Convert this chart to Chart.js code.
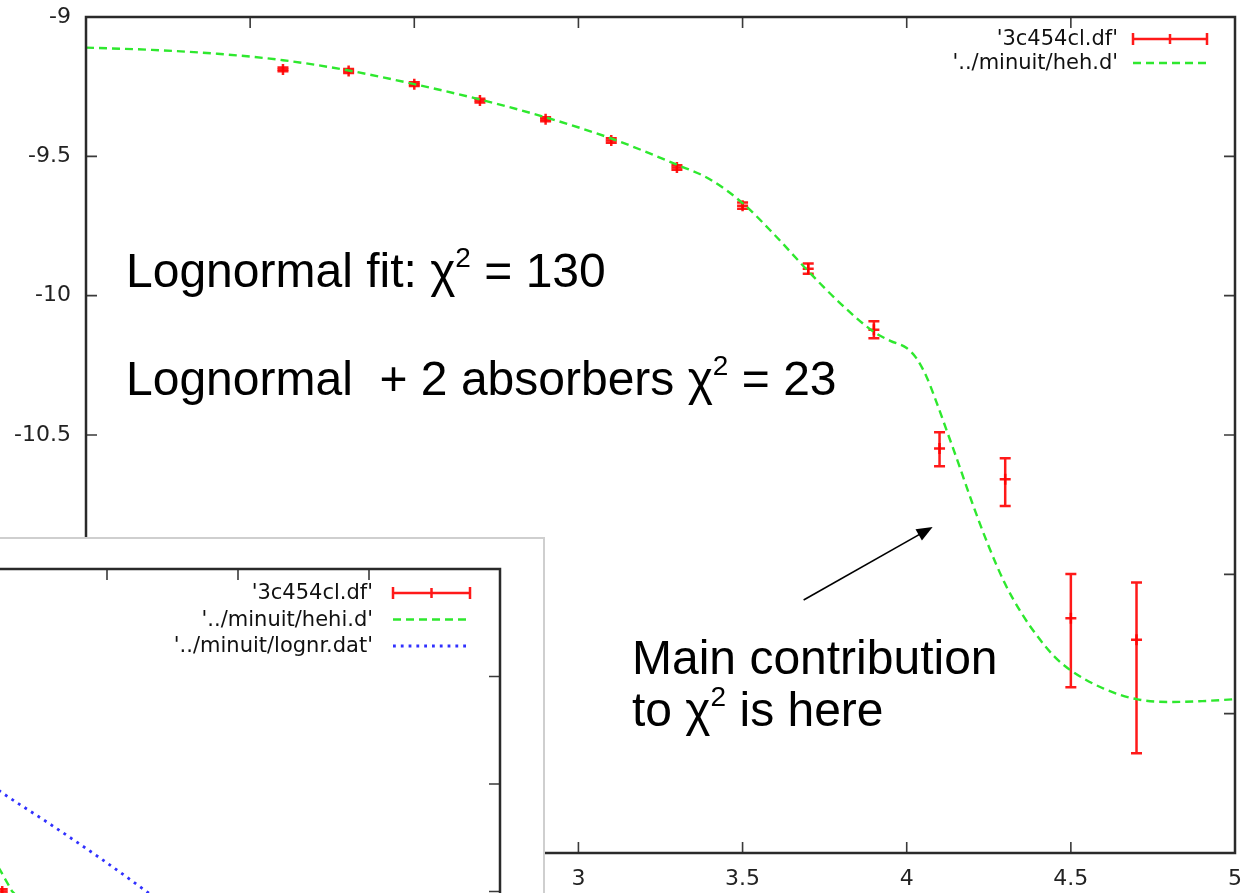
<!DOCTYPE html>
<html>
<head>
<meta charset="utf-8">
<script src="https://cdn.jsdelivr.net/npm/chart.js@4.4.1/dist/chart.umd.min.js"></script>
<style>
  body { margin: 0; background: #fff; }
  #wrap { position: relative; width: 1250px; height: 893px; overflow: hidden; }
  #main { position: absolute; left: 0; top: 0; }
  #inset { position: absolute; left: 0; top: 537px; width: 545px; height: 356px; box-sizing: border-box;
           background: #fff; border-top: 2px solid #cfcfcf; border-right: 2px solid #cfcfcf; overflow: hidden; }
  #insetChart { position: absolute; left: -460px; top: 0; }
  .note { position: absolute; font-family: "Liberation Sans", Arial, sans-serif; font-size: 48px; line-height: 52px;
          color: #000; white-space: pre; }
  .note sup { font-size: 28px; vertical-align: 0; position: relative; top: -20px; }
</style>
</head>
<body>
<div id="wrap">
  <canvas id="main" width="1250" height="893"></canvas>
  <div class="note" style="left:126px; top:245px;">Lognormal fit: χ<sup>2</sup> = 130</div>
  <div class="note" style="left:126px; top:353px;">Lognormal  + 2 absorbers χ<sup>2</sup> = 23</div>
  <div class="note" style="left:632px; top:632px;">Main contribution
to χ<sup>2</sup> is here</div>
  <div id="inset"><canvas id="insetChart" width="1005" height="480"></canvas></div>
</div>
<script>
// donnees du graphe principal (log frequence, log flux)
let dataX = [2.1, 2.3, 2.5, 2.7, 2.9, 3.1, 3.3, 3.5, 3.7, 3.9, 4.1, 4.3, 4.5, 4.7];
let dataY = [-9.188, -9.194, -9.241, -9.300, -9.367, -9.443, -9.540, -9.677, -9.903, -10.122, -10.548, -10.659, -11.158, -11.235];
let errLow = [-9.195, -9.201, -9.248, -9.307, -9.374, -9.451, -9.548, -9.688, -9.921, -10.153, -10.612, -10.755, -11.405, -11.642];
let errHigh = [-9.181, -9.187, -9.234, -9.293, -9.360, -9.435, -9.532, -9.666, -9.885, -10.092, -10.490, -10.583, -10.999, -11.029];

// courbe de fit heh.d
let fitX = [1.5, 1.7, 1.9, 2.1, 2.3, 2.5, 2.7, 2.9, 3.1, 3.3, 3.4, 3.5, 3.6, 3.7, 3.8, 3.9, 3.95, 4.0, 4.03, 4.06, 4.09, 4.12, 4.16, 4.2, 4.25, 4.3, 4.35, 4.4, 4.45, 4.5, 4.6, 4.7, 4.8, 4.9, 5.0];
let fitY = [-9.110, -9.118, -9.132, -9.155, -9.192, -9.241, -9.296, -9.360, -9.436, -9.530, -9.582, -9.668, -9.785, -9.912, -10.030, -10.130, -10.162, -10.188, -10.225, -10.29, -10.38, -10.478, -10.61, -10.745, -10.90, -11.035, -11.14, -11.225, -11.295, -11.345, -11.41, -11.448, -11.458, -11.455, -11.448];

let xTicks = [1.5, 2, 2.5, 3, 3.5, 4, 4.5, 5];
let yTicks = [-9, -9.5, -10, -10.5, -11, -11.5, -12];

// fleche "Main contribution"
let arrowFrom = [3.686, -11.092];
let arrowTo = [4.079, -10.830];

// petit graphe en bas a gauche (seule une partie est visible)
let insetPtX = [3.1];
let insetPtY = [-10.50];
let insetPtLow = [-10.51];
let insetPtHigh = [-10.49];
let insetFitX = [3.034, 3.092, 3.137, 3.187];
let insetFitY = [-10.284, -10.400, -10.498, -10.563];
let insetLogX = [3.015, 3.085, 3.282, 3.473, 3.653, 3.760];
let insetLogY = [-9.963, -10.028, -10.186, -10.344, -10.502, -10.600];
let insetXTicks = [1.5, 2, 2.5, 3, 3.5, 4, 4.5, 5];
let insetYTicks = [-9, -9.5, -10, -10.5, -11];

const RED = 'rgba(255,0,0,0.9)';
const GREEN = '#2ee82e';
const BLUE = '#3030ff';
const TICKFONT = { family: 'DejaVu Sans', size: 22 };

function pts(xs, ys) {
  return xs.map((x, i) => ({ x: x, y: ys[i] }));
}

// barres d'erreur verticales
const errorBars = {
  id: 'errorBars',
  beforeDatasetsDraw(chart) {
    let ctx = chart.ctx;
    let xs = chart.scales.x, ys = chart.scales.y;
    chart.data.datasets.forEach(ds => {
      if (!ds.errLow) return;
      ctx.save();
      ctx.strokeStyle = ds.borderColor;
      ctx.lineWidth = 2.5;
      ds.data.forEach((p, i) => {
        let px = xs.getPixelForValue(p.x);
        let lo = ys.getPixelForValue(ds.errLow[i]);
        let hi = ys.getPixelForValue(ds.errHigh[i]);
        ctx.beginPath();
        ctx.moveTo(px, lo); ctx.lineTo(px, hi);
        ctx.moveTo(px - 5.5, lo); ctx.lineTo(px + 5.5, lo);
        ctx.moveTo(px - 5.5, hi); ctx.lineTo(px + 5.5, hi);
        ctx.stroke();
      });
      ctx.restore();
    });
  }
};

// cadre + graduations vers l'interieur (style gnuplot)
const frameTicks = {
  id: 'frameTicks',
  afterDatasetsDraw(chart, args, opts) {
    let ctx = chart.ctx, a = chart.chartArea;
    let xs = chart.scales.x, ys = chart.scales.y;
    let L = opts.len;
    ctx.save();
    ctx.strokeStyle = '#3a3a3a';
    ctx.lineWidth = 1.6;
    ctx.beginPath();
    opts.xTicks.forEach(v => {
      let px = xs.getPixelForValue(v);
      ctx.moveTo(px, a.bottom); ctx.lineTo(px, a.bottom - L);
      ctx.moveTo(px, a.top); ctx.lineTo(px, a.top + L);
    });
    opts.yTicks.forEach(v => {
      let py = ys.getPixelForValue(v);
      ctx.moveTo(a.left, py); ctx.lineTo(a.left + L, py);
      ctx.moveTo(a.right, py); ctx.lineTo(a.right - L, py);
    });
    ctx.stroke();
    ctx.lineWidth = 2.5;
    ctx.strokeStyle = '#2a2a2a';
    ctx.strokeRect(a.left, a.top, a.right - a.left, a.bottom - a.top);
    ctx.restore();
  }
};

// legende facon gnuplot : texte a droite, echantillon a cote
const gnuLegend = {
  id: 'gnuLegend',
  afterDraw(chart, args, opts) {
    let ctx = chart.ctx, a = chart.chartArea;
    ctx.save();
    ctx.font = '21px "DejaVu Sans"';
    ctx.textAlign = 'right';
    ctx.textBaseline = 'middle';
    chart.data.datasets.forEach((ds, i) => {
      let y = a.top + opts.first + i * opts.step;
      let xt = a.right - opts.textRight;
      let x0 = a.right - opts.from, x1 = a.right - opts.to;
      ctx.fillStyle = '#111';
      ctx.fillText(ds.label, xt, y + 1);
      ctx.strokeStyle = ds.borderColor;
      ctx.beginPath();
      if (ds.errLow) {
        ctx.lineWidth = 2.5;
        ctx.setLineDash([]);
        ctx.moveTo(x0, y); ctx.lineTo(x1, y);
        ctx.moveTo(x0, y - 6); ctx.lineTo(x0, y + 6);
        ctx.moveTo(x1, y - 6); ctx.lineTo(x1, y + 6);
        let xm = (x0 + x1) / 2;
        ctx.moveTo(xm, y - 5); ctx.lineTo(xm, y + 5);
      } else {
        ctx.lineWidth = ds.borderWidth;
        ctx.setLineDash(ds.borderDash || []);
        ctx.moveTo(x0, y); ctx.lineTo(x1, y);
      }
      ctx.stroke();
    });
    ctx.restore();
  }
};

const arrowPlugin = {
  id: 'arrow',
  afterDraw(chart, args, opts) {
    if (!opts.from) return;
    let ctx = chart.ctx, xs = chart.scales.x, ys = chart.scales.y;
    let x0 = xs.getPixelForValue(opts.from[0]), y0 = ys.getPixelForValue(opts.from[1]);
    let x1 = xs.getPixelForValue(opts.to[0]), y1 = ys.getPixelForValue(opts.to[1]);
    let ang = Math.atan2(y1 - y0, x1 - x0);
    ctx.save();
    ctx.strokeStyle = '#000';
    ctx.fillStyle = '#000';
    ctx.lineWidth = 1.6;
    ctx.beginPath();
    ctx.moveTo(x0, y0);
    ctx.lineTo(x1 - 12 * Math.cos(ang), y1 - 12 * Math.sin(ang));
    ctx.stroke();
    ctx.beginPath();
    ctx.moveTo(x1, y1);
    ctx.lineTo(x1 - 16 * Math.cos(ang) + 6.5 * Math.sin(ang), y1 - 16 * Math.sin(ang) - 6.5 * Math.cos(ang));
    ctx.lineTo(x1 - 16 * Math.cos(ang) - 6.5 * Math.sin(ang), y1 - 16 * Math.sin(ang) + 6.5 * Math.cos(ang));
    ctx.closePath();
    ctx.fill();
    ctx.restore();
  }
};

Chart.register(errorBars, frameTicks, gnuLegend, arrowPlugin);

new Chart(document.getElementById('main').getContext('2d'), {
  type: 'scatter',
  data: {
    datasets: [{
      label: "'3c454cl.df'",
      data: pts(dataX, dataY),
      errLow: errLow,
      errHigh: errHigh,
      borderColor: RED,
      backgroundColor: RED,
      pointStyle: 'cross',
      pointRadius: 5.5,
      pointBorderWidth: 2.5,
      showLine: false,
      order: 1
    }, {
      label: "'../minuit/heh.d'",
      data: pts(fitX, fitY),
      borderColor: GREEN,
      borderWidth: 2.4,
      borderDash: [8, 5],
      pointRadius: 0,
      showLine: true,
      cubicInterpolationMode: 'monotone',
      order: 0
    }]
  },
  options: {
    responsive: false,
    animation: false,
    layout: { padding: { top: 17, right: 15, left: 0, bottom: 0 } },
    scales: {
      x: {
        type: 'linear', min: 1.5, max: 5,
        afterBuildTicks: s => { s.ticks = xTicks.map(v => ({ value: v })); },
        afterFit: s => { s.height = 40; s.paddingLeft = 0; s.paddingRight = 0; },
        grid: { display: false, drawTicks: false },
        border: { display: false },
        ticks: { autoSkip: false, maxRotation: 0, padding: 13, color: '#222', font: TICKFONT, callback: v => String(v) }
      },
      y: {
        type: 'linear', min: -12, max: -9,
        afterBuildTicks: s => { s.ticks = yTicks.map(v => ({ value: v })); },
        afterFit: s => { s.width = 86; s.paddingTop = 0; s.paddingBottom = 0; },
        grid: { display: false, drawTicks: false },
        border: { display: false },
        ticks: { autoSkip: false, padding: 15, color: '#222', font: TICKFONT, callback: v => String(v) }
      }
    },
    plugins: {
      legend: { display: false },
      tooltip: { enabled: false },
      frameTicks: { xTicks: xTicks, yTicks: yTicks, len: 11 },
      gnuLegend: { first: 22, step: 24, textRight: 117, from: 102, to: 28 },
      arrow: { from: arrowFrom, to: arrowTo }
    }
  }
});

new Chart(document.getElementById('insetChart').getContext('2d'), {
  type: 'scatter',
  data: {
    datasets: [{
      label: "'3c454cl.df'",
      data: pts(insetPtX, insetPtY),
      errLow: insetPtLow,
      errHigh: insetPtHigh,
      borderColor: RED,
      backgroundColor: RED,
      pointStyle: 'cross',
      pointRadius: 5.5,
      pointBorderWidth: 2.5,
      showLine: false,
      order: 2
    }, {
      label: "'../minuit/hehi.d'",
      data: pts(insetFitX, insetFitY),
      borderColor: GREEN,
      borderWidth: 2.4,
      borderDash: [8, 5],
      pointRadius: 0,
      showLine: true,
      order: 0
    }, {
      label: "'../minuit/lognr.dat'",
      data: pts(insetLogX, insetLogY),
      borderColor: BLUE,
      borderWidth: 2.8,
      borderDash: [2.8, 5],
      pointRadius: 0,
      showLine: true,
      cubicInterpolationMode: 'monotone',
      order: 1
    }]
  },
  options: {
    responsive: false,
    animation: false,
    layout: { padding: { top: 30, right: 45, left: 43, bottom: 20 } },
    scales: {
      x: { type: 'linear', min: 1.5, max: 5, display: false },
      y: { type: 'linear', min: -11, max: -9, display: false }
    },
    plugins: {
      legend: { display: false },
      tooltip: { enabled: false },
      frameTicks: { xTicks: insetXTicks, yTicks: insetYTicks, len: 11 },
      gnuLegend: { first: 24, step: 26.5, textRight: 127, from: 107, to: 30 },
      arrow: {}
    }
  }
});
</script>
</body>
</html>
